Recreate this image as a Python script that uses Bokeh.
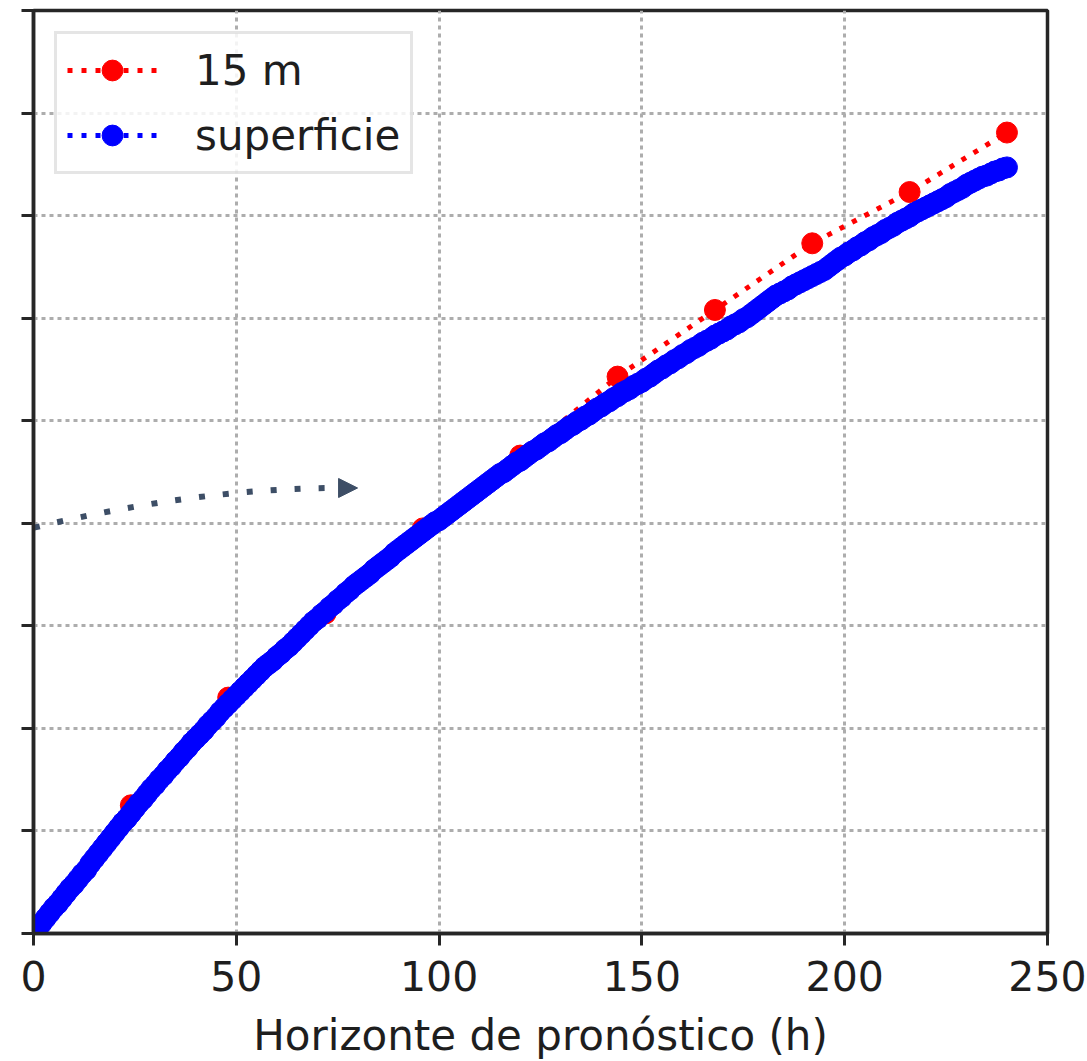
from bokeh.plotting import figure
from bokeh.models import (FixedTicker, Legend, LegendItem, Arrow, NormalHead, Range1d,
                          CustomLabelingPolicy)
from bokeh.embed import file_html
from bokeh.resources import INLINE

# ---------------- data ----------------
x_ticks = [0, 50, 100, 150, 200, 250]
y_ticks = [0, 1, 2, 3, 4, 5, 6, 7, 8, 9]
x_label = "Horizonte de pronóstico (h)"

hours_15m = [0, 24, 48, 72, 96, 120, 144, 168, 192, 216, 240]
vals_15m = [0.00, 1.25, 2.30, 3.12, 3.95, 4.66, 5.43, 6.08, 6.73, 7.23, 7.81]

hours_sup = list(range(0, 241))
vals_sup = [
    0.00, 0.05, 0.10, 0.15, 0.20, 0.25, 0.29, 0.34, 0.39, 0.44, 0.48,
    0.53, 0.58, 0.62, 0.68, 0.73, 0.78, 0.83, 0.88, 0.93, 0.98,
    1.03, 1.08, 1.12, 1.17, 1.22, 1.27, 1.31, 1.36, 1.41, 1.45,
    1.50, 1.54, 1.59, 1.63, 1.68, 1.72, 1.77, 1.81, 1.86, 1.90,
    1.94, 1.98, 2.03, 2.07, 2.11, 2.16, 2.20, 2.24, 2.28, 2.32,
    2.36, 2.40, 2.44, 2.48, 2.52, 2.56, 2.60, 2.63, 2.66, 2.70,
    2.73, 2.77, 2.80, 2.84, 2.88, 2.92, 2.96, 3.00, 3.04, 3.07,
    3.11, 3.14, 3.18, 3.21, 3.25, 3.28, 3.32, 3.35, 3.39, 3.42,
    3.45, 3.48, 3.51, 3.55, 3.58, 3.61, 3.64, 3.67, 3.71, 3.74,
    3.77, 3.80, 3.83, 3.86, 3.89, 3.92, 3.95, 3.98, 4.01, 4.03,
    4.06, 4.09, 4.12, 4.15, 4.18, 4.21, 4.24, 4.27, 4.30, 4.33,
    4.36, 4.39, 4.42, 4.45, 4.48, 4.50, 4.53, 4.56, 4.59, 4.61,
    4.64, 4.67, 4.70, 4.72, 4.75, 4.78, 4.80, 4.83, 4.86, 4.88,
    4.91, 4.94, 4.96, 4.99, 5.01, 5.04, 5.06, 5.09, 5.12, 5.14,
    5.17, 5.19, 5.22, 5.24, 5.27, 5.29, 5.31, 5.34, 5.36, 5.38,
    5.41, 5.43, 5.46, 5.49, 5.51, 5.54, 5.56, 5.59, 5.61, 5.64,
    5.66, 5.69, 5.71, 5.73, 5.76, 5.78, 5.80, 5.83, 5.85, 5.87,
    5.89, 5.92, 5.94, 5.96, 5.99, 6.01, 6.04, 6.07, 6.10, 6.13,
    6.16, 6.19, 6.22, 6.24, 6.26, 6.28, 6.31, 6.33, 6.35, 6.37,
    6.39, 6.41, 6.43, 6.45, 6.47, 6.50, 6.53, 6.56, 6.59, 6.61,
    6.64, 6.66, 6.69, 6.71, 6.74, 6.76, 6.79, 6.81, 6.83, 6.86,
    6.88, 6.90, 6.93, 6.95, 6.97, 6.99, 7.02, 7.04, 7.06, 7.08,
    7.10, 7.12, 7.14, 7.16, 7.18, 7.21, 7.23, 7.25, 7.27, 7.30,
    7.32, 7.34, 7.36, 7.38, 7.39, 7.41, 7.43, 7.44, 7.46, 7.47,
]

# dotted annotation arrow (start, control, end) in data units
annot_start = (-5.67, 3.90)
annot_ctrl = (38.2, 4.344)
annot_end = (75.4, 4.344)
annot_tip = (79.9, 4.344)

# ---------------- style ----------------
FONT = "DejaVu Sans"
DARK = "#262626"
TXT = "#1e1e1e"
GRID = "#adadad"

p = figure(
    output_backend="svg", toolbar_location=None,
    frame_width=1014, frame_height=923,
    min_border_left=33, min_border_top=10, min_border_right=40, min_border_bottom=0,
    x_range=Range1d(0, 250), y_range=Range1d(0, 9),
)
p.background_fill_color = "white"
p.border_fill_color = "white"
p.outline_line_color = DARK
p.outline_line_width = 3.5

# axes
for ax in (p.xaxis[0], p.yaxis[0]):
    ax.axis_line_color = DARK
    ax.axis_line_width = 3.5
    ax.major_tick_line_color = DARK
    ax.major_tick_line_width = 3
    ax.major_tick_out = 12
    ax.major_tick_in = 0
    ax.minor_tick_line_color = None
    ax.major_label_text_font = FONT
    ax.major_label_text_color = TXT

p.xaxis.ticker = FixedTicker(ticks=x_ticks)
p.yaxis.ticker = FixedTicker(ticks=y_ticks)
p.xaxis.major_label_text_font_size = "41px"
p.xaxis.major_label_standoff = 15
p.xaxis.axis_label = x_label
p.xaxis.axis_label_text_font = FONT
p.xaxis.axis_label_text_font_size = "42px"
p.xaxis.axis_label_text_font_style = "normal"
p.xaxis.axis_label_text_color = TXT
p.xaxis.axis_label_standoff = 17
# the reference shows y ticks without labels
p.yaxis.major_label_text_font_size = "1px"
p.yaxis.major_label_standoff = 0
p.yaxis.major_label_policy = CustomLabelingPolicy(code="""
try { for (const i of Array.from(indices)) { indices.unset(i) } } catch (e) {}
return indices
""")

# grid
for g in (p.xgrid[0], p.ygrid[0]):
    g.grid_line_color = GRID
    g.grid_line_width = 3
    g.grid_line_dash = "4 4"
p.xgrid.ticker = FixedTicker(ticks=x_ticks)
p.ygrid.ticker = FixedTicker(ticks=y_ticks)

# series
r_line = p.line(hours_15m, vals_15m, line_color="#ff0000", line_width=5, line_dash="5 9")
r_pts = p.scatter(hours_15m, vals_15m, size=21, fill_color="#ff0000", line_color="#ff0000", line_width=1)
b_line = p.line(hours_sup, vals_sup, line_color="#0000ff", line_width=5, line_dash="5 9")
b_pts = p.scatter(hours_sup, vals_sup, size=21, fill_color="#0000ff", line_color="#0000ff", line_width=1)

# annotation
p.quadratic(x0=[annot_start[0]], y0=[annot_start[1]], x1=[annot_end[0]], y1=[annot_end[1]],
            cx=[annot_ctrl[0]], cy=[annot_ctrl[1]],
            line_color="#3d4e66", line_width=6, line_dash="6 18", line_cap="butt")
p.add_layout(Arrow(end=NormalHead(size=19, fill_color="#3d4e66", line_color="#3d4e66", line_width=1),
                   x_start=annot_end[0] - 2, y_start=annot_tip[1],
                   x_end=annot_tip[0], y_end=annot_tip[1], line_alpha=0))

legend = Legend(
    items=[LegendItem(label="15 m", renderers=[r_line, r_pts]),
           LegendItem(label="superficie", renderers=[b_line, b_pts])],
    location="top_left",
    margin=21, padding=10, spacing=13,
    glyph_width=90, glyph_height=52, label_height=52, label_standoff=38,
    label_text_font=FONT, label_text_font_size="42px", label_text_color=TXT,
    border_line_color="#cccccc", border_line_width=3,
    background_fill_color="white", background_fill_alpha=0.85,
)
p.add_layout(legend, "center")

open("out.html", "w").write(file_html(p, INLINE))
